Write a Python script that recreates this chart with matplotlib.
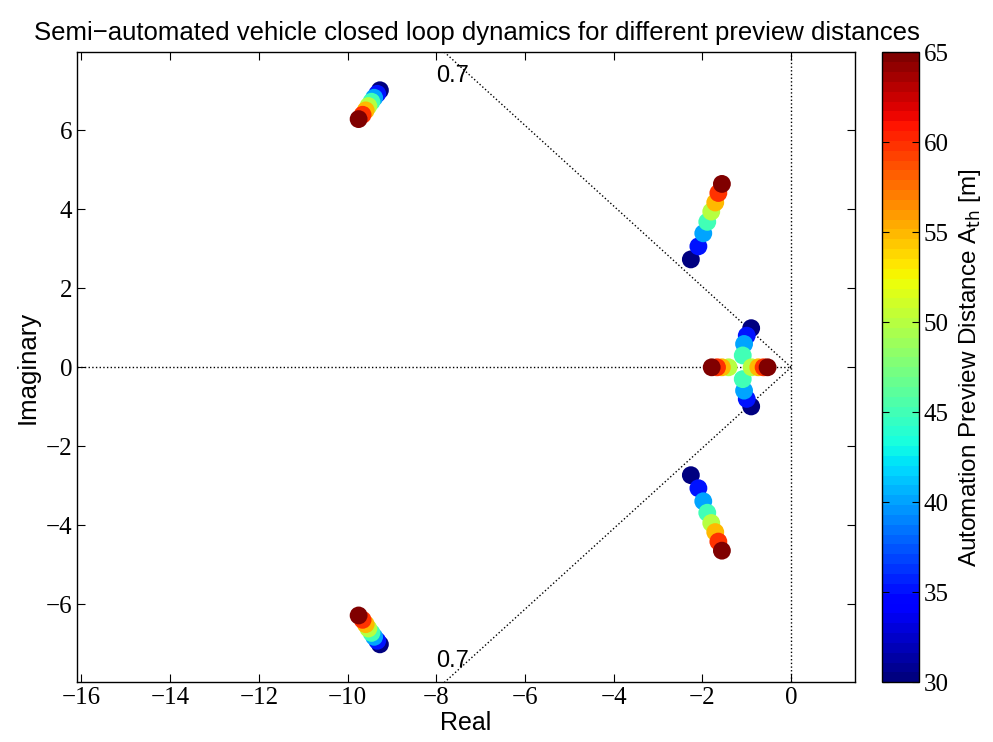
import numpy as np
import matplotlib
matplotlib.use("Agg")
import matplotlib.pyplot as plt

# Preview distances (colour values)
preview = [30, 35, 40, 45, 50, 55, 60, 65]

# Pole locations (real, imaginary) for each preview distance
far_re = [-9.27, -9.33, -9.40, -9.46, -9.53, -9.59, -9.66, -9.75]
far_im = [7.01, 6.92, 6.82, 6.72, 6.61, 6.50, 6.39, 6.28]

mid_re = [-2.26, -2.09, -1.98, -1.89, -1.80, -1.71, -1.64, -1.56]
mid_im = [2.73, 3.06, 3.39, 3.68, 3.94, 4.17, 4.41, 4.64]

# slow pair: complex for low preview, splits onto real axis for high preview
slow1_re = [-0.90, -1.00, -1.06, -1.09, -1.41, -1.56, -1.67, -1.79]
slow1_im = [0.99, 0.80, 0.59, 0.30, 0.0, 0.0, 0.0, 0.0]
slow2_re = [-0.90, -1.00, -1.06, -1.09, -0.89, -0.74, -0.62, -0.53]
slow2_im = [-0.99, -0.80, -0.59, -0.30, 0.0, 0.0, 0.0, 0.0]

damping = 0.7
xlim = (-16.1, 1.44)
ylim = (-7.97, 7.97)
xticks = [-16, -14, -12, -10, -8, -6, -4, -2, 0]
yticks = [-6, -4, -2, 0, 2, 4, 6]
cticks = [30, 35, 40, 45, 50, 55, 60, 65]

fig = plt.figure(figsize=(9.93, 7.42), dpi=100)
ax = fig.add_axes([0.0775, 0.0805, 0.7835, 0.849])
cax = fig.add_axes([0.8885, 0.0805, 0.037, 0.849])

cmap = plt.get_cmap('jet', 64)
serif = 'Liberation Serif'
sans = 'Liberation Sans'

# grid lines
ax.plot([xlim[0], 0], [0, 0], ls=':', color='k', lw=1.0, zorder=1)
ax.axvline(0, ls=':', color='k', lw=1.0, zorder=1)
slope = np.tan(np.arccos(damping))
yend = ylim[1]
ax.plot([0, -yend / slope], [0, yend], ls=':', color='k', lw=1.0, zorder=1)
ax.plot([0, -yend / slope], [0, -yend], ls=':', color='k', lw=1.0, zorder=1)
ax.text(-7.64, 7.37, '0.7', ha='center', va='center', fontsize=17, family=sans)
ax.text(-7.64, -7.42, '0.7', ha='center', va='center', fontsize=17, family=sans)

s = 165
for i, a in enumerate(preview):
    col = [a]
    kw = dict(c=col, cmap=cmap, vmin=30, vmax=65, s=s, edgecolors='none', zorder=3)
    ax.scatter([far_re[i]], [far_im[i]], **kw)
    ax.scatter([far_re[i]], [-far_im[i]], **kw)
    ax.scatter([mid_re[i]], [mid_im[i]], **kw)
    ax.scatter([mid_re[i]], [-mid_im[i]], **kw)
    ax.scatter([slow1_re[i]], [slow1_im[i]], **kw)
    ax.scatter([slow2_re[i]], [slow2_im[i]], **kw)

ax.set_xlim(*xlim)
ax.set_ylim(*ylim)
ax.set_xticks(xticks)
ax.set_yticks(yticks)
ax.set_xticklabels([str(t).replace('-', '\u2212') for t in xticks], family=serif, fontsize=18)
ax.set_yticklabels([str(t).replace('-', '\u2212') for t in yticks], family=serif, fontsize=18)
ax.tick_params(direction='in', top=True, right=True, length=6, width=0.8)
for sp in ax.spines.values():
    sp.set_linewidth(1.0)
ax.set_xlabel('Real', family=sans, fontsize=18, labelpad=1)
ax.set_ylabel('Imaginary', family=sans, fontsize=18.5, labelpad=4)
ax.set_title('Semi\u2212automated vehicle closed loop dynamics for different preview distances',
             family=sans, fontsize=18.5, pad=9, x=0.5135)

norm = matplotlib.colors.Normalize(vmin=30, vmax=65)
cb = fig.colorbar(matplotlib.cm.ScalarMappable(norm=norm, cmap=cmap), cax=cax)
cb.set_ticks(cticks)
cb.ax.set_yticklabels([str(t) for t in cticks], family=serif, fontsize=18)
cb.ax.tick_params(direction='in', left=True, right=True, length=5, width=0.8)
cb.outline.set_linewidth(1.0)
cb.set_label('Automation Preview Distance A$_{\\mathrm{th}}$ [m]', family=sans, fontsize=17.5, labelpad=6)

fig.savefig('out.png', dpi=100)
